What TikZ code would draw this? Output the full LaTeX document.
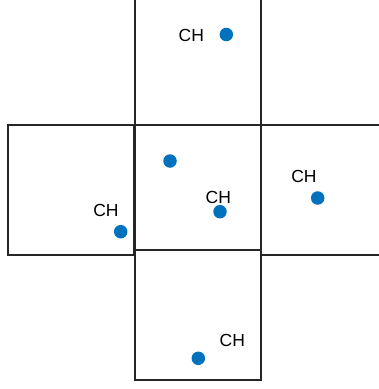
\documentclass[tikz,border=0pt]{standalone}
\usepackage{fontspec}
\setmainfont{Liberation Sans}
\definecolor{dotblue}{RGB}{0,114,189}
\begin{document}
\begin{tikzpicture}[x=1pt,y=-1pt]
        \tikzset{
            cell/.style={draw=black!85, line width=1.3pt, minimum width=126pt, minimum height=#1, inner sep=0pt},
            cell/.default=126pt,
            sensor/.style={circle, fill=dotblue, minimum size=13.5pt, inner sep=0pt},
            chlabel/.style={font=\fontsize{17.5}{20}\selectfont, inner sep=0pt}
        }
        \useasboundingbox (0,0) rectangle (379,389);
        \clip (0,0) rectangle (379,389);

        % grid cells
        \node[cell] (top) at (198,62) {};
        \node[cell=130pt] (left) at (71,190) {};
        \node[cell=130pt] (right) at (324,190) {};
        \node[cell=130pt] (bottom) at (198,315) {};
        \node[cell=125pt] (mid) at (198,187.5) {};

        % sensor nodes
        \node[sensor] (s1) at (226.3,34.5) {};
        \node[sensor] (s2) at (170,161) {};
        \node[sensor] (s3) at (220,211.7) {};
        \node[sensor] (s4) at (317.7,198) {};
        \node[sensor] (s5) at (120.7,231.7) {};
        \node[sensor] (s6) at (198.3,358.3) {};

        % cluster heads
        \node[chlabel] (ch1) at (191.3,35) {CH};
        \node[chlabel] (ch3) at (218.3,197.7) {CH};
        \node[chlabel] (ch4) at (304,176) {CH};
        \node[chlabel] (ch5) at (106,210.7) {CH};
        \node[chlabel] (ch6) at (232.3,340.7) {CH};
    \end{tikzpicture}
\end{document}
